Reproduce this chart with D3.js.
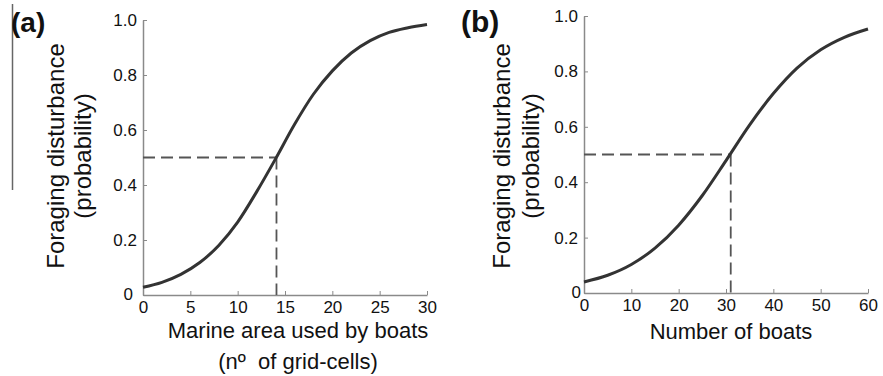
<!DOCTYPE html>
<html>
<head>
<meta charset="utf-8">
<script src="https://cdn.jsdelivr.net/npm/d3@7"></script>
<style>
  body { margin: 0; background: #fff; }
  text { font-family: "Liberation Sans", Arial, sans-serif; fill: #111; }
</style>
</head>
<body>
<script>
// panel (a): marine area used by boats (grid-cells)
const areaX = [0, 2, 4, 6, 8, 10, 12, 14, 16, 18, 20, 22, 24, 26, 28, 30];
const areaP = [0.028, 0.046, 0.075, 0.118, 0.18, 0.265, 0.375, 0.495, 0.62, 0.73, 0.815, 0.88, 0.925, 0.955, 0.972, 0.984];
const areaTicks = [0, 5, 10, 15, 20, 25, 30];
const areaHalf = 14.1;

// panel (b): number of boats
const boatsX = [0, 5, 10, 15, 20, 25, 30, 35, 40, 45, 50, 55, 60];
const boatsP = [0.04, 0.064, 0.103, 0.162, 0.245, 0.352, 0.478, 0.607, 0.72, 0.812, 0.878, 0.923, 0.953];
const boatsTicks = [0, 10, 20, 30, 40, 50, 60];
const boatsHalf = 31;

const probTicks = [0, 0.2, 0.4, 0.6, 0.8, 1.0];

const svg = d3.select('body').append('svg')
  .attr('width', 883)
  .attr('height', 376);

// stray vertical rule at the far left of the scan
svg.append('line')
  .attr('x1', 12.5).attr('x2', 12.5)
  .attr('y1', 4).attr('y2', 190)
  .attr('stroke', '#666')
  .attr('stroke-width', 1.5);

function drawPanel(cfg) {
  const x = d3.scaleLinear().domain(cfg.xDomain).range(cfg.xRange);
  const y = d3.scaleLinear().domain([0, 1]).range(cfg.yRange);
  const g = svg.append('g');

  // axes, ticks pointing inward
  const yAxis = g.append('g')
    .attr('transform', `translate(${cfg.xRange[0]},0)`)
    .call(d3.axisLeft(y).tickValues(probTicks).tickSizeInner(-4).tickSizeOuter(0).tickPadding(6)
      .tickFormat((d) => d === 0 ? '' : d3.format('.1f')(d)));
  const xAxis = g.append('g')
    .attr('transform', `translate(0,${cfg.yRange[0]})`)
    .call(d3.axisBottom(x).tickValues(cfg.ticks).tickSizeInner(-4).tickSizeOuter(0).tickPadding(6));

  [yAxis, xAxis].forEach((ax) => {
    ax.select('.domain').attr('stroke', '#8a8a8a').attr('stroke-width', 1.5);
    ax.selectAll('.tick line').attr('stroke', '#8a8a8a').attr('stroke-width', 1);
    ax.selectAll('.tick text').style('font-size', '17px').attr('fill', '#111');
  });

  // the y "0" sits apart from the other tick labels, as in the original
  g.append('text')
    .attr('x', cfg.xRange[0] - cfg.zeroGap)
    .attr('y', y(0) + 5)
    .attr('text-anchor', 'end')
    .style('font-size', '17px')
    .text('0');

  // dashed guides at p = 0.5
  const guide = [
    [[cfg.xRange[0], y(0.5)], [x(cfg.half), y(0.5)]],
    [[x(cfg.half), y(0.5)], [x(cfg.half), y(0)]]
  ];
  g.selectAll('.guide').data(guide).enter().append('path')
    .attr('class', 'guide')
    .attr('d', (d) => d3.line()(d))
    .attr('fill', 'none')
    .attr('stroke', '#555')
    .attr('stroke-width', 1.8)
    .attr('stroke-dasharray', '12,6');

  // logistic curve
  const pts = cfg.xs.map((v, i) => ({x: v, p: cfg.ps[i]}));
  g.append('path')
    .datum(pts)
    .attr('fill', 'none')
    .attr('stroke', '#333')
    .attr('stroke-width', 3)
    .attr('d', d3.line().x((d) => x(d.x)).y((d) => y(d.p)).curve(d3.curveMonotoneX));

  // panel letter
  g.append('text')
    .attr('x', cfg.letterX)
    .attr('y', 32)
    .style('font-size', cfg.letterSize + 'px')
    .style('font-weight', 'bold')
    .text(cfg.letter);

  // y title (two lines)
  [['Foraging disturbance', cfg.yTitleX[0]], ['(probability)', cfg.yTitleX[1]]].forEach(([t, tx]) => {
    g.append('text')
      .attr('transform', `translate(${tx},156) rotate(-90)`)
      .attr('text-anchor', 'middle')
      .style('font-size', '24px')
      .text(t);
  });

  // x title lines
  cfg.xTitle.forEach((t, i) => {
    g.append('text')
      .attr('x', cfg.xTitleX)
      .attr('y', cfg.xTitleY + i * 31)
      .attr('text-anchor', 'middle')
      .style('font-size', '22px')
      .style('white-space', 'pre')
      .text(t);
  });
}

drawPanel({
  xDomain: [0, 30], xRange: [143, 427], yRange: [295, 20],
  ticks: areaTicks, xs: areaX, ps: areaP, half: areaHalf, zeroGap: 10,
  letter: '(a)', letterX: 11, letterSize: 28, yTitleX: [64, 91],
  xTitle: ['Marine area used by boats', '(n\u00BA  of grid-cells)'], xTitleX: 298, xTitleY: 338
});

drawPanel({
  xDomain: [0, 60], xRange: [584, 868], yRange: [293, 16],
  ticks: boatsTicks, xs: boatsX, ps: boatsP, half: boatsHalf, zeroGap: 3,
  letter: '(b)', letterX: 461, letterSize: 30, yTitleX: [510, 539],
  xTitle: ['Number of boats'], xTitleX: 731, xTitleY: 339
});
</script>
</body>
</html>
